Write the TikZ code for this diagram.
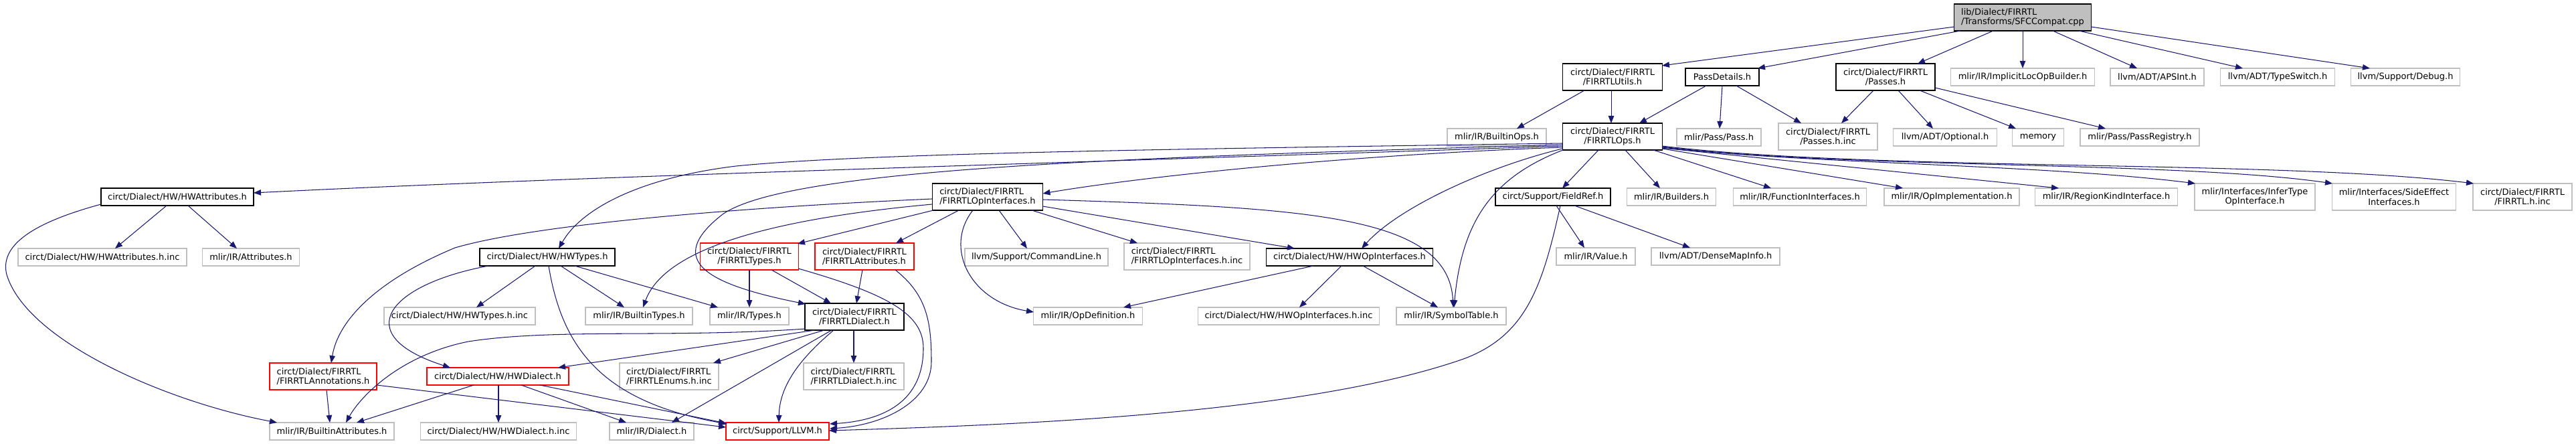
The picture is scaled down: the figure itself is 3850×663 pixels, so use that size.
\documentclass[tikz,border=0pt]{standalone}
\usepackage{fontspec}
\newfontfamily\dejavu{DejaVu Sans}
\usetikzlibrary{arrows.meta,calc}
\definecolor{edgeblue}{HTML}{191970}
\definecolor{greyb}{HTML}{BFBFBF}
\definecolor{redb}{HTML}{FF0000}
\tikzset{
  nbox/.style={line width=1.1pt, inner sep=0pt, minimum height=26pt, fill=white,
    font={\dejavu\fontsize{13}{14.5}\selectfont}, align=center},
  doc/.style={nbox, draw=black},
  ext/.style={nbox, draw=greyb},
  redn/.style={nbox, draw=redb},
  rootn/.style={nbox, draw=black, fill=greyb},
  two/.style={minimum height=40pt},
  dep/.style={draw=edgeblue, line width=1.05pt, -{Triangle[length=11pt,width=8.5pt]}},
}
\begin{document}
\begin{tikzpicture}[x=1pt,y=-1pt]
\path[fill=white,use as bounding box] (0,0) rectangle (3850,663);
% row 0
\node[rootn,two,align=left,minimum width=205pt] (root) at (3023,26) {lib/Dialect/FIRRTL\\/Transforms/SFCCompat.cpp};
% row 1
\node[doc,two,minimum width=149pt] (utils) at (2410,115) {circt/Dialect/FIRRTL\\/FIRRTLUtils.h};
\node[doc,minimum width=110pt] (passdet) at (2574,115) {PassDetails.h};
\node[doc,two,minimum width=148pt] (passes) at (2818,115) {circt/Dialect/FIRRTL\\/Passes.h};
\node[ext,minimum width=215pt] (implicit) at (3023,115) {mlir/IR/ImplicitLocOpBuilder.h};
\node[ext,minimum width=140pt] (apsint) at (3224,115) {llvm/ADT/APSInt.h};
\node[ext,minimum width=171pt] (typeswitch) at (3404,115) {llvm/ADT/TypeSwitch.h};
\node[ext,minimum width=163pt] (debug) at (3595,115) {llvm/Support/Debug.h};
% row 2
\node[ext,minimum width=148pt] (builtinops) at (2237,205) {mlir/IR/BuiltinOps.h};
\node[doc,two,minimum width=149pt] (ops) at (2410,204) {circt/Dialect/FIRRTL\\/FIRRTLOps.h};
\node[ext,minimum width=126pt] (pass) at (2569,205) {mlir/Pass/Pass.h};
\node[ext,two,minimum width=148pt] (passesinc) at (2732,204) {circt/Dialect/FIRRTL\\/Passes.h.inc};
\node[ext,minimum width=155pt] (optional) at (2907,205) {llvm/ADT/Optional.h};
\node[ext,minimum width=77pt] (memory) at (3046,205) {memory};
\node[ext,minimum width=178pt] (passreg) at (3198,205) {mlir/Pass/PassRegistry.h};
% row 3
\node[doc,minimum width=228pt] (hwattr) at (265,294) {circt/Dialect/HW/HWAttributes.h};
\node[doc,two,align=left,minimum width=165pt] (opif) at (1476,294) {circt/Dialect/FIRRTL\\/FIRRTLOpInterfaces.h};
\node[doc,minimum width=172pt] (fieldref) at (2321,294) {circt/Support/FieldRef.h};
\node[ext,minimum width=133pt] (builders) at (2498,294) {mlir/IR/Builders.h};
\node[ext,minimum width=199pt] (funcif) at (2690,294) {mlir/IR/FunctionInterfaces.h};
\node[ext,minimum width=202pt] (opimpl) at (2917,294) {mlir/IR/OpImplementation.h};
\node[ext,minimum width=213pt] (regionkind) at (3148,294) {mlir/IR/RegionKindInterface.h};
\node[ext,two,minimum width=180pt] (infertype) at (3370,294) {mlir/Interfaces/InferType\\OpInterface.h};
\node[ext,two,minimum width=185pt] (sideeffect) at (3578,294) {mlir/Interfaces/SideEffect\\Interfaces.h};
\node[ext,two,minimum width=148pt] (firrtlinc) at (3770,294) {circt/Dialect/FIRRTL\\/FIRRTL.h.inc};
% row 4
\node[ext,minimum width=252pt] (hwattrinc) at (153,384) {circt/Dialect/HW/HWAttributes.h.inc};
\node[ext,minimum width=145pt] (attributes) at (375,384) {mlir/IR/Attributes.h};
\node[doc,minimum width=202pt] (hwtypes) at (818,384) {circt/Dialect/HW/HWTypes.h};
\node[redn,two,minimum width=147pt] (firrtltypes) at (1120,383) {circt/Dialect/FIRRTL\\/FIRRTLTypes.h};
\node[redn,two,align=left,minimum width=148pt] (firrtlattr) at (1292,383) {circt/Dialect/FIRRTL\\/FIRRTLAttributes.h};
\node[ext,minimum width=214pt] (cmdline) at (1549,384) {llvm/Support/CommandLine.h};
\node[ext,two,align=left,minimum width=188pt] (opifinc) at (1774,383) {circt/Dialect/FIRRTL\\/FIRRTLOpInterfaces.h.inc};
\node[doc,minimum width=249pt] (hwopif) at (2017,384) {circt/Dialect/HW/HWOpInterfaces.h};
\node[ext,minimum width=118pt] (value) at (2385,383) {mlir/IR/Value.h};
\node[ext,minimum width=192pt] (densemap) at (2564,383) {llvm/ADT/DenseMapInfo.h};
% row 5
\node[ext,minimum width=226pt] (hwtypesinc) at (687,472) {circt/Dialect/HW/HWTypes.h.inc};
\node[ext,minimum width=160pt] (builtintypes) at (955,472) {mlir/IR/BuiltinTypes.h};
\node[ext,minimum width=118pt] (types) at (1120,472) {mlir/IR/Types.h};
\node[doc,two,minimum width=148pt] (dialect) at (1277,473) {circt/Dialect/FIRRTL\\/FIRRTLDialect.h};
\node[ext,minimum width=163pt] (opdef) at (1626,472) {mlir/IR/OpDefinition.h};
\node[ext,minimum width=271pt] (hwopifinc) at (1926,472) {circt/Dialect/HW/HWOpInterfaces.h.inc};
\node[ext,minimum width=164pt] (symtab) at (2169,472) {mlir/IR/SymbolTable.h};
% row 6
\node[redn,two,align=left,minimum width=160pt] (annotations) at (483,562) {circt/Dialect/FIRRTL\\/FIRRTLAnnotations.h};
\node[redn,minimum width=212pt] (hwdialect) at (744,562) {circt/Dialect/HW/HWDialect.h};
\node[ext,two,align=left,minimum width=148pt] (enumsinc) at (1000,562) {circt/Dialect/FIRRTL\\/FIRRTLEnums.h.inc};
\node[ext,two,align=left,minimum width=150pt] (dialectinc) at (1276,562) {circt/Dialect/FIRRTL\\/FIRRTLDialect.h.inc};
% row 7
\node[ext,minimum width=186pt] (builtinattr) at (496,644) {mlir/IR/BuiltinAttributes.h};
\node[ext,minimum width=233pt] (hwdialectinc) at (745,644) {circt/Dialect/HW/HWDialect.h.inc};
\node[ext,minimum width=126pt] (mlirdialect) at (974,644) {mlir/IR/Dialect.h};
\node[redn,minimum width=154pt] (llvm) at (1162,644) {circt/Support/LLVM.h};

% ---- edges ----
% root
\draw[dep] ($(root)+(-102,14)$) -- ($(utils)+(74,-17)$);
\draw[dep] ($(root)+(-93,20)$) -- ($(passdet)+(53,-13)$);
\draw[dep] ($(root)+(-44,20)$) -- ($(passes)+(48,-20)$);
\draw[dep] ($(root)+(0,20)$) -- ($(implicit)+(0,-13)$);
\draw[dep] ($(root)+(45,20)$) -- ($(apsint)+(-30,-13)$);
\draw[dep] ($(root)+(84,20)$) -- ($(typeswitch)+(-52,-13)$);
\draw[dep] ($(root)+(102,14)$) -- ($(debug)+(-53,-13)$);
% utils, passdet, passes
\draw[dep] ($(utils)+(-42,20)$) -- ($(builtinops)+(30,-13)$);
\draw[dep] ($(utils)+(-2,20)$) -- ($(ops)+(-2,-20)$);
\draw[dep] ($(passdet)+(-24,13)$) -- ($(ops)+(40,-20)$);
\draw[dep] ($(passdet)+(0,13)$) -- ($(pass)+(1,-13)$);
\draw[dep] ($(passdet)+(21,13)$) -- ($(passesinc)+(-40,-20)$);
\draw[dep] ($(passes)+(-18,20)$) -- ($(passesinc)+(20,-20)$);
\draw[dep] ($(passes)+(19,20)$) -- ($(optional)+(-18,-13)$);
\draw[dep] ($(passes)+(51,20)$) -- ($(memory)+(-33,-13)$);
\draw[dep] ($(passes)+(74,16)$) -- ($(passreg)+(-51,-13)$);
% ops
\draw[dep] ($(ops)+(-21,20)$) -- ($(fieldref)+(14,-13)$);
\draw[dep] ($(ops)+(19,20)$) -- ($(builders)+(-17,-13)$);
\draw[dep] ($(ops)+(61,20)$) -- ($(funcif)+(-43,-13)$);
\draw[dep] ($(ops)+(74,18)$) -- ($(opimpl)+(-73,-13)$);
\draw[dep] ($(ops)+(74,17)$) -- ($(regionkind)+(-71,-13)$);
\draw[dep] ($(ops)+(74,16)$) .. controls (2700,245) and (3050,245) .. ($(infertype)+(-89,-20)$);
\draw[dep] ($(ops)+(74,15)$) .. controls (2750,252) and (3250,240) .. ($(sideeffect)+(-92,-20)$);
\draw[dep] ($(ops)+(74,14)$) .. controls (2800,256) and (3400,238) .. ($(firrtlinc)+(-73,-20)$);
\draw[dep] ($(ops)+(-75,18)$) .. controls (2220,250) and (2090,310) .. ($(hwopif)+(18,-13)$);
\draw[dep] ($(ops)+(-74,20)$) .. controls (2230,265) and (2185,330) .. ($(symtab)+(4,-13)$);
\draw[dep] ($(ops)+(-75,16)$) .. controls (2000,232) and (1700,265) .. ($(opif)+(82.5,-5)$);
\draw[dep] ($(ops)+(-75,14)$) .. controls (1700,240) and (900,262) .. ($(hwattr)+(114,-6)$);
\draw[dep] ($(ops)+(-75,12)$) .. controls (1700,235) and (1180,250) .. (1080,320)
  .. controls (990,390) and (1060,425) .. ($(dialect)+(-73,-19)$);
\draw[dep] ($(ops)+(-75,10)$) .. controls (1800,222) and (1300,228) .. (1100,248)
  .. controls (960,265) and (870,310) .. ($(hwtypes)+(17,-13)$);
% opif
\draw[dep] ($(opif)+(-83,3)$) .. controls (1100,310) and (800,335) .. (680,370)
  .. controls (560,420) and (505,480) .. ($(annotations)+(12,-20)$);
\draw[dep] ($(opif)+(-83,11)$) .. controls (1120,330) and (990,380) .. ($(builtintypes)+(6,-13)$);
\draw[dep] ($(opif)+(-81,20)$) -- ($(firrtltypes)+(72,-19)$);
\draw[dep] ($(opif)+(-43,20)$) -- ($(firrtlattr)+(47,-20)$);
\draw[dep] ($(opif)+(-22,20)$) .. controls (1410,370) and (1450,450) .. ($(opdef)+(-81,-6)$);
\draw[dep] ($(opif)+(17,20)$) -- ($(cmdline)+(-14,-13)$);
\draw[dep] ($(opif)+(66,20)$) -- ($(opifinc)+(-74,-20)$);
\draw[dep] ($(opif)+(82.5,14)$) -- ($(hwopif)+(-82,-13)$);
\draw[dep] ($(opif)+(82.5,4)$) .. controls (1950,310) and (2165,320) .. ($(symtab)+(3,-13)$);
% hwopif
\draw[dep] ($(hwopif)+(-54,13)$) -- ($(opdef)+(53,-13)$);
\draw[dep] ($(hwopif)+(-12,13)$) -- ($(hwopifinc)+(16,-13)$);
\draw[dep] ($(hwopif)+(20,13)$) -- ($(symtab)+(-20,-13)$);
% fieldref
\draw[dep] ($(fieldref)+(5,13)$) -- ($(value)+(-17,-13)$);
\draw[dep] ($(fieldref)+(32,13)$) -- ($(densemap)+(-38,-13)$);
\draw[dep] ($(fieldref)+(11,13)$) .. controls (2305,430) and (2280,500) .. (2190,535)
  .. controls (1950,620) and (1500,635) .. ($(llvm)+(77,-1)$);
% hwattr
\draw[dep] ($(hwattr)+(-16,13)$) -- ($(hwattrinc)+(19,-13)$);
\draw[dep] ($(hwattr)+(16,13)$) -- ($(attributes)+(-21,-13)$);
\draw[dep] ($(hwattr)+(-114,11)$) .. controls (40,335) and (0,370) .. (10,410)
  .. controls (40,510) and (250,600) .. ($(builtinattr)+(-82,-13)$);
% hwtypes
\draw[dep] ($(hwtypes)+(-18,13)$) -- ($(hwtypesinc)+(25,-13)$);
\draw[dep] ($(hwtypes)+(20,13)$) -- ($(builtintypes)+(-22,-13)$);
\draw[dep] ($(hwtypes)+(41,13)$) -- ($(types)+(-47,-13)$);
\draw[dep] ($(hwtypes)+(2,13)$) .. controls (840,520) and (900,600) .. ($(llvm)+(-75,-11)$);
\draw[dep] ($(hwtypes)+(-88,13)$) .. controls (580,425) and (520,500) .. ($(hwdialect)+(-71,-13)$);
% firrtltypes, firrtlattr
\draw[dep] ($(firrtltypes)+(0,20)$) -- ($(types)+(0,-13)$);
\draw[dep] ($(firrtltypes)+(33,20)$) -- ($(dialect)+(-35,-20)$);
\draw[dep] ($(firrtltypes)+(73,18)$) .. controls (1330,440) and (1380,470) .. (1380,520)
  .. controls (1380,600) and (1320,628) .. ($(llvm)+(78,-11)$);
\draw[dep] ($(firrtlattr)+(-3,20)$) -- ($(dialect)+(3,-20)$);
\draw[dep] ($(firrtlattr)+(46,20)$) .. controls (1385,440) and (1392,480) .. (1392,540)
  .. controls (1392,600) and (1320,635) .. ($(llvm)+(78,-4)$);
% dialect
\draw[dep] ($(dialect)+(-73,18)$) .. controls (1000,505) and (830,490) .. (700,510)
  .. controls (600,530) and (540,590) .. ($(builtinattr)+(21,-13)$);
\draw[dep] ($(dialect)+(-59,20)$) -- ($(hwdialect)+(90,-13)$);
\draw[dep] ($(dialect)+(-45,20)$) -- ($(enumsinc)+(66,-20)$);
\draw[dep] ($(dialect)+(-34,20)$) -- ($(mlirdialect)+(30,-13)$);
\draw[dep] ($(dialect)+(-31,20)$) .. controls (1190,540) and (1165,580) .. ($(llvm)+(2,-13)$);
\draw[dep] ($(dialect)+(-1,20)$) -- ($(dialectinc)+(0,-20)$);
% annotations
\draw[dep] ($(annotations)+(5,20)$) -- ($(builtinattr)+(-3,-13)$);
\draw[dep] ($(annotations)+(80,13)$) -- ($(llvm)+(-77,-6)$);
% hwdialect
\draw[dep] ($(hwdialect)+(-36,13)$) -- ($(builtinattr)+(37,-13)$);
\draw[dep] ($(hwdialect)+(1,13)$) -- ($(hwdialectinc)+(0,-13)$);
\draw[dep] ($(hwdialect)+(35,13)$) -- ($(mlirdialect)+(-38,-13)$);
\draw[dep] ($(hwdialect)+(63,13)$) -- ($(llvm)+(-77,-12)$);
\end{tikzpicture}
\end{document}
